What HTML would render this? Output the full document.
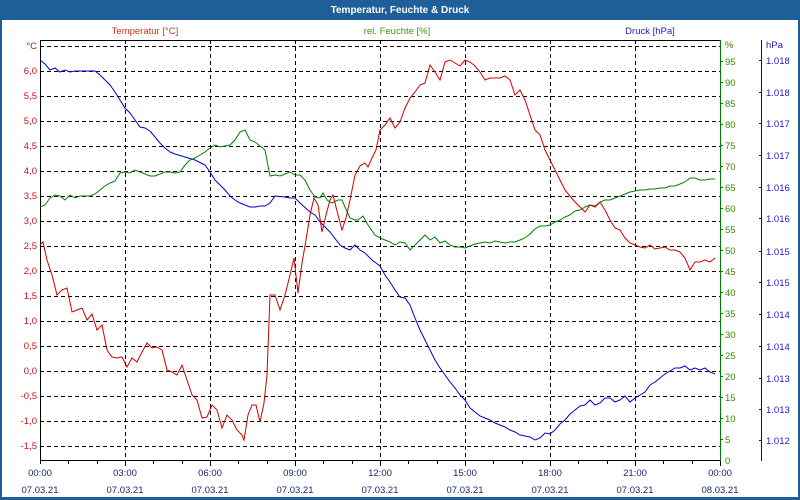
<!DOCTYPE html>
<html><head><meta charset="utf-8"><style>
html,body{margin:0;padding:0;background:#fff}
svg{display:block}
text{font-family:"Liberation Sans",sans-serif;font-size:9.5px}
</style></head><body>
<svg width="800" height="500" viewBox="0 0 800 500" xmlns="http://www.w3.org/2000/svg">
<rect x="0" y="0" width="800" height="500" fill="#1f5f99"/>
<rect x="2" y="20" width="796" height="477" fill="#fff"/>
<text x="400" y="13" text-anchor="middle" fill="#fff" font-weight="bold" style="font-size:10px">Temperatur, Feuchte &amp; Druck</text>
<text x="145" y="34" text-anchor="middle" fill="#c8381a">Temperatur [°C]</text>
<text x="397" y="34" text-anchor="middle" fill="#3a9a10">rel. Feuchte [%]</text>
<text x="650" y="34" text-anchor="middle" fill="#2020c0">Druck [hPa]</text>
<g stroke="#000" stroke-width="1" stroke-dasharray="4,3" fill="none">
<path d="M40 46.5H720M40 71.5H720M40 96.5H720M40 121.5H720M40 146.5H720M40 171.5H720M40 196.5H720M40 221.5H720M40 246.5H720M40 271.5H720M40 296.5H720M40 321.5H720M40 346.5H720M40 371.5H720M40 396.5H720M40 421.5H720M40 446.5H720"/>
<path d="M125.5 40V460M210.5 40V460M295.5 40V460M380.5 40V460M465.5 40V460M550.5 40V460M635.5 40V460"/>
</g>
<path d="M40.5 460V40.5H720" stroke="#000" fill="none"/>
<path d="M40 460.5H720" stroke="#000"/>
<g stroke="#000"><path d="M40.5 460v4M68.5 460v4M97.5 460v4M125.5 460v6M153.5 460v4M182.5 460v4M210.5 460v6M238.5 460v4M267.5 460v4M295.5 460v6M323.5 460v4M352.5 460v4M380.5 460v6M408.5 460v4M437.5 460v4M465.5 460v6M493.5 460v4M522.5 460v4M550.5 460v6M578.5 460v4M607.5 460v4M635.5 460v6M663.5 460v4M692.5 460v4M720.5 460v6"/></g>
<path d="M720.5 40V461" stroke="#008000"/>
<path d="M761.5 40V461" stroke="#0000d0"/>
<g fill="#d01010" text-anchor="end">
<text x="37" y="49">°C</text><text x="37" y="74">6,0</text><text x="37" y="99">5,5</text><text x="37" y="124">5,0</text><text x="37" y="149">4,5</text><text x="37" y="174">4,0</text><text x="37" y="199">3,5</text><text x="37" y="224">3,0</text><text x="37" y="249">2,5</text><text x="37" y="274">2,0</text><text x="37" y="299">1,5</text><text x="37" y="324">1,0</text><text x="37" y="349">0,5</text><text x="37" y="374">0,0</text><text x="37" y="399">-0,5</text><text x="37" y="424">-1,0</text><text x="37" y="449">-1,5</text>
</g>
<g fill="#3a8a00">
<text x="725" y="48">%</text><text x="725" y="65">95</text><text x="725" y="86">90</text><text x="725" y="107">85</text><text x="725" y="128">80</text><text x="725" y="149">75</text><text x="725" y="170">70</text><text x="725" y="191">65</text><text x="725" y="212">60</text><text x="725" y="233">55</text><text x="725" y="254">50</text><text x="725" y="275">45</text><text x="725" y="296">40</text><text x="725" y="317">35</text><text x="725" y="338">30</text><text x="725" y="359">25</text><text x="725" y="380">20</text><text x="725" y="401">15</text><text x="725" y="422">10</text><text x="725" y="443">5</text><text x="725" y="464">0</text>
</g>
<g stroke="#008000"><path d="M720 61.5h3M720 82.5h3M720 103.5h3M720 124.5h3M720 145.5h3M720 166.5h3M720 187.5h3M720 208.5h3M720 229.5h3M720 250.5h3M720 271.5h3M720 292.5h3M720 313.5h3M720 334.5h3M720 355.5h3M720 376.5h3M720 397.5h3M720 418.5h3M720 439.5h3"/></g>
<g fill="#2020c0">
<text x="766" y="48">hPa</text><text x="766" y="64">1.018</text><text x="766" y="96">1.018</text><text x="766" y="127">1.017</text><text x="766" y="159">1.017</text><text x="766" y="191">1.016</text><text x="766" y="222">1.016</text><text x="766" y="255">1.015</text><text x="766" y="286">1.015</text><text x="766" y="318">1.014</text><text x="766" y="350">1.014</text><text x="766" y="382">1.013</text><text x="766" y="413">1.013</text><text x="766" y="444">1.012</text>
</g>
<g stroke="#0000d0"><path d="M759 60.5h3M759 92.5h3M759 123.5h3M759 155.5h3M759 187.5h3M759 218.5h3M759 251.5h3M759 282.5h3M759 314.5h3M759 346.5h3M759 378.5h3M759 409.5h3M759 440.5h3"/></g>
<g fill="#1a2a6a" text-anchor="middle">
<text x="40" y="476">00:00</text><text x="125" y="476">03:00</text><text x="210" y="476">06:00</text><text x="295" y="476">09:00</text><text x="380" y="476">12:00</text><text x="465" y="476">15:00</text><text x="550" y="476">18:00</text><text x="635" y="476">21:00</text><text x="720" y="476">00:00</text>
<text x="40" y="493">07.03.21</text><text x="125" y="493">07.03.21</text><text x="210" y="493">07.03.21</text><text x="295" y="493">07.03.21</text><text x="380" y="493">07.03.21</text><text x="465" y="493">07.03.21</text><text x="550" y="493">07.03.21</text><text x="635" y="493">07.03.21</text><text x="720" y="493">08.03.21</text>
</g>
<polyline fill="none" stroke="#0000d0" stroke-width="1" points="40,60 45,64 50,70 55,68 60,72 65,70 70,72 75,71 85,71 95,71 100,75 110,85 115,92 120,100 125,108 130,113 135,120 140,127 145,128 150,131 155,137 160,143 165,148 170,152 175,154 185,157 195,160 205,165 210,172 215,180 220,185 225,190 230,196 235,200 240,203 245,205 250,207 255,207 260,206 265,206 270,203 275,196 285,197 290,198 295,198 300,203 310,212 315,215 320,222 330,232 340,245 345,248 350,250 355,245 360,250 365,253 372,260 380,266 385,275 390,282 395,290 400,297 405,298 410,305 415,318 420,330 425,340 430,350 435,360 440,368 445,375 450,382 455,388 460,395 465,400 470,408 475,412 480,416 485,418 490,420 495,423 500,425 505,427 510,430 515,432 520,435 525,436 530,437 535,440 540,438 545,433 550,434 555,430 560,424 565,420 570,414 575,410 580,406 585,405 590,400 595,405 600,403 605,398 610,398 615,402 620,400 625,396 630,402 635,398 640,395 645,392 650,385 655,382 660,378 665,374 670,371 675,368 680,368 685,366 690,370 695,368 700,370 705,368 710,372 715,374"/>
<polyline fill="none" stroke="#008000" stroke-width="1" points="40,207 45,205 50,198 55,195 60,196 65,200 70,195 75,198 80,196 85,196 90,196 95,194 100,190 105,186 110,183 115,181 120,173 125,172 130,173 135,170 140,172 145,174 150,176 155,176 160,174 165,172 170,172 175,173 180,172 185,165 190,160 195,158 200,155 205,152 210,148 215,145 220,147 225,146 230,145 235,140 240,132 245,130 250,140 255,142 260,146 265,150 270,176 275,175 280,176 285,174 290,172 295,175 300,175 305,180 310,190 315,197 320,198 323,193 327,200 332,203 338,200 342,200 345,207 350,218 355,220 358,220 363,216 368,225 375,235 380,238 385,240 390,242 395,245 400,242 405,243 410,250 415,245 420,240 425,235 430,240 435,237 440,243 445,241 450,245 455,247 460,247 465,248 470,246 475,244 480,243 485,242 490,243 495,241 500,242 505,243 510,242 515,242 520,240 525,238 530,234 535,229 540,226 545,226 550,225 555,222 560,220 565,217 570,215 575,211 580,210 585,207 590,205 595,206 600,202 605,200 610,200 615,198 620,196 625,194 630,192 635,191 640,190 645,190 650,189 655,189 660,188 665,188 670,186 675,186 680,184 685,182 690,178 695,178 700,180 705,180 710,179 715,179"/>
<polyline fill="none" stroke="#d00000" stroke-width="1" points="40,245 43,242 47,260 52,275 57,295 62,290 67,288 72,312 77,310 82,308 87,320 92,314 97,330 102,325 107,350 112,357 117,358 122,357 127,367 132,358 137,362 142,352 147,343 152,348 157,347 162,350 167,370 172,372 177,375 182,365 187,380 192,395 197,400 202,418 207,417 212,405 217,410 222,428 227,415 232,420 237,430 242,435 244,440 248,415 252,405 256,405 260,422 264,403 267,375 270,295 275,295 280,310 285,295 290,275 294,258 298,293 302,263 306,240 310,215 314,198 318,205 322,232 326,215 330,200 333,195 338,215 342,230 346,218 350,200 355,175 360,166 365,163 368,167 372,158 376,150 380,130 385,125 390,118 395,128 400,122 405,108 410,98 415,92 420,85 425,83 430,65 435,72 440,80 445,62 450,60 455,63 460,66 465,60 470,62 475,66 480,72 485,80 490,78 495,78 500,78 505,76 510,80 515,95 520,90 525,100 530,115 535,130 540,135 545,150 550,160 555,170 560,180 565,190 570,196 575,202 580,207 585,212 590,205 595,207 600,202 605,210 610,220 615,228 620,230 625,238 630,243 635,245 640,247 645,248 650,245 655,249 660,248 665,247 670,250 675,250 680,252 685,258 690,270 695,262 700,262 705,260 710,262 715,258"/>
</svg>
</body></html>
